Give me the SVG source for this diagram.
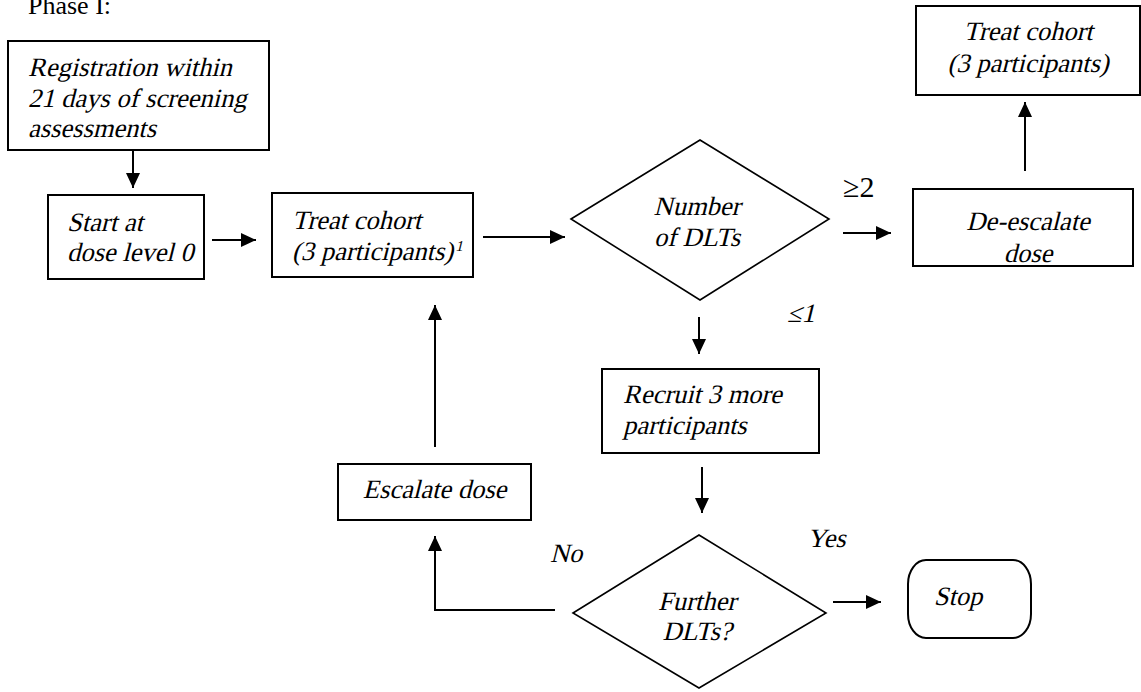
<svg xmlns="http://www.w3.org/2000/svg" width="1141" height="692" viewBox="0 0 1141 692">
<defs>
<style>
.t{font-family:"Liberation Serif",serif;font-size:26.5px;font-style:normal;fill:#000}
.n{font-family:"Liberation Serif",serif;font-size:26px;font-style:normal;fill:#000}
.c{text-anchor:middle}
.box{fill:#fff;stroke:#000;stroke-width:2}
.dia{fill:#fff;stroke:#000;stroke-width:1.6}
.ln{fill:none;stroke:#000;stroke-width:2;marker-end:url(#ah)}
</style>
<marker id="ah" markerUnits="userSpaceOnUse" markerWidth="16" markerHeight="16" refX="15" refY="7" orient="auto">
<path d="M0,0 L15,7 L0,14 z" fill="#000"/>
</marker>
</defs>
<rect width="1141" height="692" fill="#fff"/>
<text class="n" x="28" y="14">Phase I:</text>

<g id="connectors">
<path class="ln" d="M133,150 V188"/>
<path class="ln" d="M212,240 H256"/>
<path class="ln" d="M483,237 H565"/>
<path class="ln" d="M843,233 H891"/>
<path class="ln" d="M1025,171 V102"/>
<path class="ln" d="M699,317 V354"/>
<path class="ln" d="M702,467 V513"/>
<path class="ln" d="M833,602 H881"/>
<path class="ln" d="M555,610 H435 V536"/>
<path class="ln" d="M435,447 V305"/>
<text class="n" x="843" y="197" style="font-size:30px">≥2</text>
<text class="t" transform="translate(787,322) skewX(-14)">≤1</text>
<text class="t" transform="translate(807,547) skewX(-14)">Yes</text>
<text class="t" transform="translate(550,562) skewX(-14)">No</text>
</g>

<g id="registration">
<rect class="box" x="8" y="41" width="261" height="109"/>
<text class="t" transform="translate(28,76) skewX(-14)">Registration within</text>
<text class="t" transform="translate(28,107) skewX(-14)">21 days of screening</text>
<text class="t" transform="translate(28,137) skewX(-14)">assessments</text>
</g>

<g id="start">
<rect class="box" x="48" y="195" width="156" height="84"/>
<text class="t" transform="translate(67,231) skewX(-14)">Start at</text>
<text class="t" transform="translate(67,261) skewX(-14)">dose level 0</text>
</g>

<g id="treat">
<rect class="box" x="272" y="193" width="201" height="84"/>
<text class="t" transform="translate(292,229) skewX(-14)">Treat cohort</text>
<text class="t" transform="translate(292,260) skewX(-14)">(3 participants)<tspan style="font-size:15px" dy="-9">1</tspan></text>
</g>

<g id="dlts">
<polygon class="dia" points="571,219 700,140 829,219 700,300"/>
<text class="t c" transform="translate(697,215) skewX(-14)">Number</text>
<text class="t c" transform="translate(697,246) skewX(-14)">of DLTs</text>
</g>

<g id="deescalate">
<rect class="box" x="913" y="189" width="220" height="77"/>
<text class="t c" transform="translate(1028,230) skewX(-14)">De-escalate</text>
<text class="t c" transform="translate(1028,262) skewX(-14)">dose</text>
</g>

<g id="treat2">
<rect class="box" x="916" y="6" width="224" height="89"/>
<text class="t c" transform="translate(1028,40) skewX(-14)">Treat cohort</text>
<text class="t c" transform="translate(1028,72) skewX(-14)">(3 participants)</text>
</g>

<g id="recruit">
<rect class="box" x="602" y="369" width="217" height="84"/>
<text class="t" transform="translate(623,403) skewX(-14)">Recruit 3 more</text>
<text class="t" transform="translate(623,434) skewX(-14)">participants</text>
</g>

<g id="further">
<polygon class="dia" points="573,613 699,535 826,613 699,688"/>
<text class="t c" transform="translate(697,610) skewX(-14)">Further</text>
<text class="t c" transform="translate(697,640) skewX(-14)">DLTs?</text>
</g>

<g id="escalate">
<rect class="box" x="338" y="464" width="193" height="56"/>
<text class="t c" transform="translate(434.5,498) skewX(-14)">Escalate dose</text>
</g>

<g id="stop">
<rect class="box" x="908" y="560" width="123" height="78" rx="18" ry="24"/>
<text class="t c" transform="translate(958,605) skewX(-14)">Stop</text>
</g>
</svg>
